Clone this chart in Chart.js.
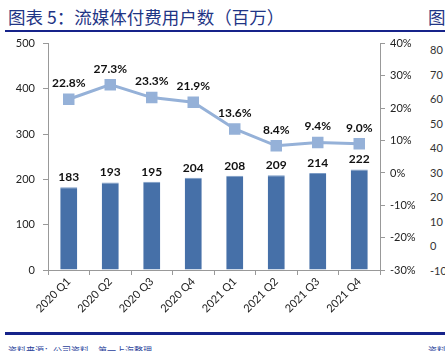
<!DOCTYPE html>
<html>
<head>
<meta charset="utf-8">
<script src="https://cdn.jsdelivr.net/npm/chart.js@4.4.0/dist/chart.umd.min.js"></script>
<style>
  body { margin: 0; background: #fff; width: 445px; height: 351px; overflow: hidden; position: relative; }
  .title { position: absolute; left: 8px; top: 4px; font: 17.5px "Noto Sans CJK SC", sans-serif; color: #1f3585; white-space: nowrap; }
  .title2 { position: absolute; left: 428px; top: 4px; font: 17.5px "Noto Sans CJK SC", sans-serif; color: #1f3585; }
  .rule { position: absolute; left: 5px; width: 440px; background: #16238a; }
  .src { position: absolute; top: 344px; font: 9px "Noto Sans CJK SC", sans-serif; color: #2a3f9a; white-space: nowrap; }
  .side { position: absolute; left: 430px; font: 11px Lato, sans-serif; color: #333; }
  #wrap { position: absolute; left: 0; top: 29px; width: 420px; height: 301px; }
</style>
</head>
<body>
<div class="title">图表 5：流媒体付费用户数（百万）</div>
<div class="title2">图</div>
<div class="rule" style="top:30px;height:2px"></div>
<div class="rule" style="top:332px;height:3px"></div>
<div class="src" style="left:8px">资料来源：公司资料，第一上海整理</div>
<div class="src" style="left:428px">资料</div>
<div id="side"></div>
<div id="wrap"><canvas id="chart"></canvas></div>
<script>
/* ---------- DATA ---------- */
const quarters = ["2020 Q1", "2020 Q2", "2020 Q3", "2020 Q4", "2021 Q1", "2021 Q2", "2021 Q3", "2021 Q4"];
const subscribers = [183, 193, 195, 204, 208, 209, 214, 222];
const growth = [22.8, 27.3, 23.3, 21.9, 13.6, 8.4, 9.4, 9.0];
const sideLabels = ["80", "70", "60", "50", "40", "30", "20", "10", "0", "-10"];

// neighbour chart's axis, cut off at right edge
const side = document.getElementById("side");
sideLabels.forEach((t, i) => {
  const s = document.createElement("div");
  s.className = "side";
  s.style.top = (43 + i * 24.5) + "px";
  s.textContent = t;
  side.appendChild(s);
});

const tickFont = { family: "Lato", size: 11 };

const labelPlugin = {
  id: "valueLabels",
  afterDatasetsDraw(chart) {
    const ctx = chart.ctx;
    ctx.save();
    ctx.font = "bold 12px Lato";
    ctx.fillStyle = "#111";
    ctx.textAlign = "center";
    ctx.textBaseline = "bottom";
    // dataset 0 = line, dataset 1 = bars
    chart.getDatasetMeta(1).data.forEach((bar, i) => {
      ctx.fillText(subscribers[i], bar.x, bar.y - 4);
    });
    chart.getDatasetMeta(0).data.forEach((pt, i) => {
      ctx.fillText(growth[i].toFixed(1) + "%", pt.x, pt.y - 10);
    });
    ctx.restore();
  },
};

new Chart(document.getElementById("chart"), {
  data: {
    labels: quarters,
    datasets: [
      {
        type: "line",
        data: growth,
        yAxisID: "y2",
        borderColor: "#95b1d8",
        backgroundColor: "#95b1d8",
        borderWidth: 3,
        pointStyle: "rect",
        pointRadius: 6,
        pointHoverRadius: 6,
        tension: 0,
        order: 0,
      },
      {
        type: "bar",
        data: subscribers,
        yAxisID: "y",
        backgroundColor: "#4670a8",
        borderColor: "#7c9cc6",
        borderWidth: { top: 1, left: 0, right: 0, bottom: 0 },
        barPercentage: 0.41,
        categoryPercentage: 1,
        order: 1,
      },
    ],
  },
  options: {
    responsive: true,
    maintainAspectRatio: false,
    animation: false,
    layout: { padding: { top: 2, left: 0, right: 0, bottom: 0 } },
    plugins: { legend: { display: false }, tooltip: { enabled: false } },
    scales: {
      x: {
        offset: true,
        grid: { display: true, drawOnChartArea: false, offset: true, color: "#999", tickLength: 5 },
        border: { color: "#999" },
        ticks: { color: "#222", font: tickFont, maxRotation: 45, minRotation: 45, padding: 0 },
        afterFit: (s) => { s.height = 60; },
      },
      y: {
        position: "left",
        min: 0,
        max: 500,
        grid: { drawOnChartArea: false, color: "#999", tickLength: 5 },
        border: { color: "#999" },
        ticks: { stepSize: 100, color: "#222", font: tickFont, padding: 8 },
        afterFit: (s) => { s.width = 48; },
      },
      y2: {
        position: "right",
        min: -30,
        max: 40,
        grid: { drawOnChartArea: false, color: "#999", tickLength: 5 },
        border: { color: "#999" },
        ticks: { stepSize: 10, color: "#222", font: tickFont, padding: 5, callback: (v) => v + "%" },
        afterFit: (s) => { s.width = 40; },
      },
    },
  },
  plugins: [labelPlugin],
});
</script>
</body>
</html>
